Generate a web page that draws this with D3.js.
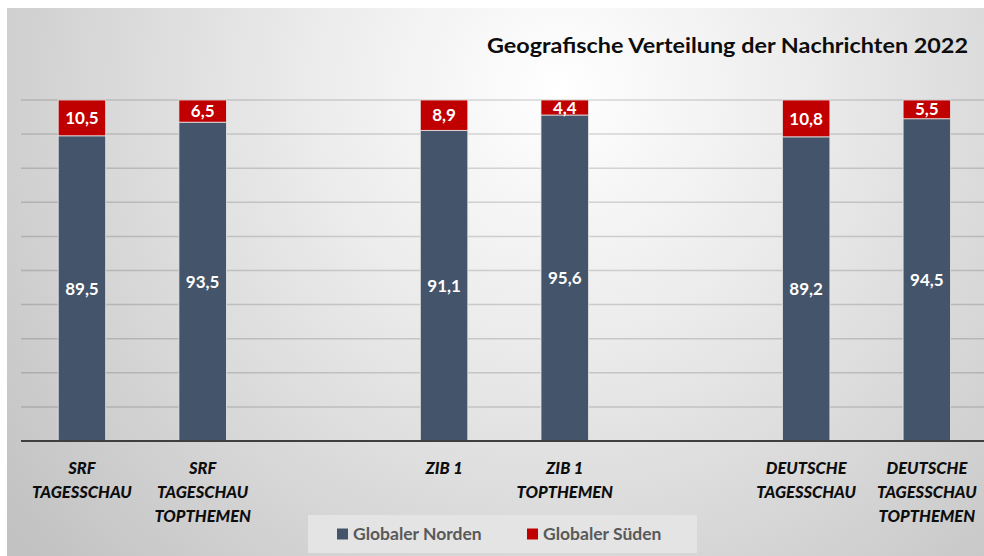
<!DOCTYPE html>
<html>
<head>
<meta charset="utf-8">
<script src="https://cdn.jsdelivr.net/npm/d3@7/dist/d3.min.js"></script>
<style>
  html, body { margin: 0; padding: 0; background: #ffffff; }
  svg { display: block; }
</style>
</head>
<body>
<script>
// ---- data ----
const title = "Geografische Verteilung der Nachrichten 2022";
const slots = ["c0", "c1", "gap1", "c2", "c3", "gap2", "c4", "c5"];
const categoryKeys = ["c0", "c1", "c2", "c3", "c4", "c5"];
const categoryLabels = [
  ["SRF", "TAGESSCHAU"],
  ["SRF", "TAGESCHAU", "TOPTHEMEN"],
  ["ZIB 1"],
  ["ZIB 1", "TOPTHEMEN"],
  ["DEUTSCHE", "TAGESSCHAU"],
  ["DEUTSCHE", "TAGESSCHAU", "TOPTHEMEN"]
];
const seriesNames = ["Globaler Norden", "Globaler Süden"];
const norden = [89.5, 93.5, 91.1, 95.6, 89.2, 94.5];
const sueden = [10.5, 6.5, 8.9, 4.4, 10.8, 5.5];
const yTicks = [0, 10, 20, 30, 40, 50, 60, 70, 80, 90, 100];
const colors = ["#44546A", "#C00000"];

// ---- layout ----
const W = 984, H = 556;
const svg = d3.select("body").append("svg").attr("width", W).attr("height", H);
const defs = svg.append("defs");
const grad = defs.append("radialGradient").attr("id", "bg")
  .attr("gradientUnits", "userSpaceOnUse")
  .attr("cx", 560).attr("cy", 90).attr("r", 700);
grad.append("stop").attr("offset", "0").attr("stop-color", "#ffffff");
grad.append("stop").attr("offset", "0.35").attr("stop-color", "#ececec");
grad.append("stop").attr("offset", "1").attr("stop-color", "#c2c2c2");

svg.append("rect").attr("x", 7).attr("y", 8).attr("width", W - 7).attr("height", H - 8)
  .attr("fill", "url(#bg)");

const font = "Lato, 'Open Sans', sans-serif";

const x = d3.scaleBand().domain(slots).range([21.6, 987.2])
  .paddingInner(0.6065).paddingOuter(0.30325);
const y = d3.scaleLinear().domain([0, 100]).range([441, 100]);

// gridlines
svg.append("g").selectAll("line").data(yTicks.filter(d => d > 0)).join("line")
  .attr("x1", 21).attr("x2", W)
  .attr("y1", d => y(d)).attr("y2", d => y(d))
  .attr("stroke", "#000").attr("stroke-opacity", 0.15).attr("stroke-width", 1.5);

// stacked data
const rows = categoryKeys.map((k, i) => ({ key: k, n: norden[i], s: sueden[i] }));
const stack = d3.stack().keys(["n", "s"])(rows);

const gBars = svg.append("g");
stack.forEach((layer, li) => {
  gBars.append("g").selectAll("rect").data(layer).join("rect")
    .attr("x", d => x(d.data.key))
    .attr("width", x.bandwidth())
    .attr("y", d => y(d[1]))
    .attr("height", d => y(d[0]) - y(d[1]))
    .attr("fill", colors[li])
    .attr("stroke", "#e6e6e6").attr("stroke-width", 0.8);
});

// value labels
stack.forEach((layer, li) => {
  svg.append("g").selectAll("text").data(layer).join("text")
    .attr("x", d => x(d.data.key) + x.bandwidth() / 2)
    .attr("y", d => (y(d[0]) + y(d[1])) / 2)
    .attr("dy", "0.36em")
    .attr("text-anchor", "middle")
    .attr("font-family", font).attr("font-weight", "bold").attr("font-size", 17)
    .attr("fill", "#ffffff")
    .text(d => d3.format(".1f")(d[1] - d[0]).replace(".", ","));
});

// baseline axis
svg.append("line").attr("x1", 21).attr("x2", W).attr("y1", y(0)).attr("y2", y(0))
  .attr("stroke", "#3f3f3f").attr("stroke-width", 2);

// category labels
const gCat = svg.append("g");
categoryKeys.forEach((k, i) => {
  const t = gCat.append("text")
    .attr("x", x(k) + x.bandwidth() / 2)
    .attr("y", 474)
    .attr("text-anchor", "middle")
    .attr("font-family", font).attr("font-weight", "900").attr("font-style", "italic")
    .attr("font-size", 16.5).attr("fill", "#0d0d0d");
  categoryLabels[i].forEach((line, j) => {
    t.append("tspan").attr("x", x(k) + x.bandwidth() / 2).attr("y", 474 + j * 24).text(line);
  });
});

// title
svg.append("text").attr("x", 487).attr("y", 53)
  .attr("font-family", font).attr("font-weight", "bold").attr("font-size", 20)
  .attr("fill", "#0d0d0d")
  .attr("textLength", 481).attr("lengthAdjust", "spacingAndGlyphs")
  .text(title);

// legend
const lg = svg.append("g");
lg.append("rect").attr("x", 308).attr("y", 515).attr("width", 389).attr("height", 38)
  .attr("fill", "#e4e4e4");
const legendX = [337, 527];
seriesNames.forEach((name, i) => {
  lg.append("rect").attr("x", legendX[i]).attr("y", 528.5).attr("width", 11).attr("height", 11)
    .attr("fill", colors[i]);
  lg.append("text").attr("x", legendX[i] + 16).attr("y", 540)
    .attr("font-family", font).attr("font-weight", "bold").attr("font-size", 17.5)
    .attr("fill", "#595959").text(name);
});
</script>
</body>
</html>
